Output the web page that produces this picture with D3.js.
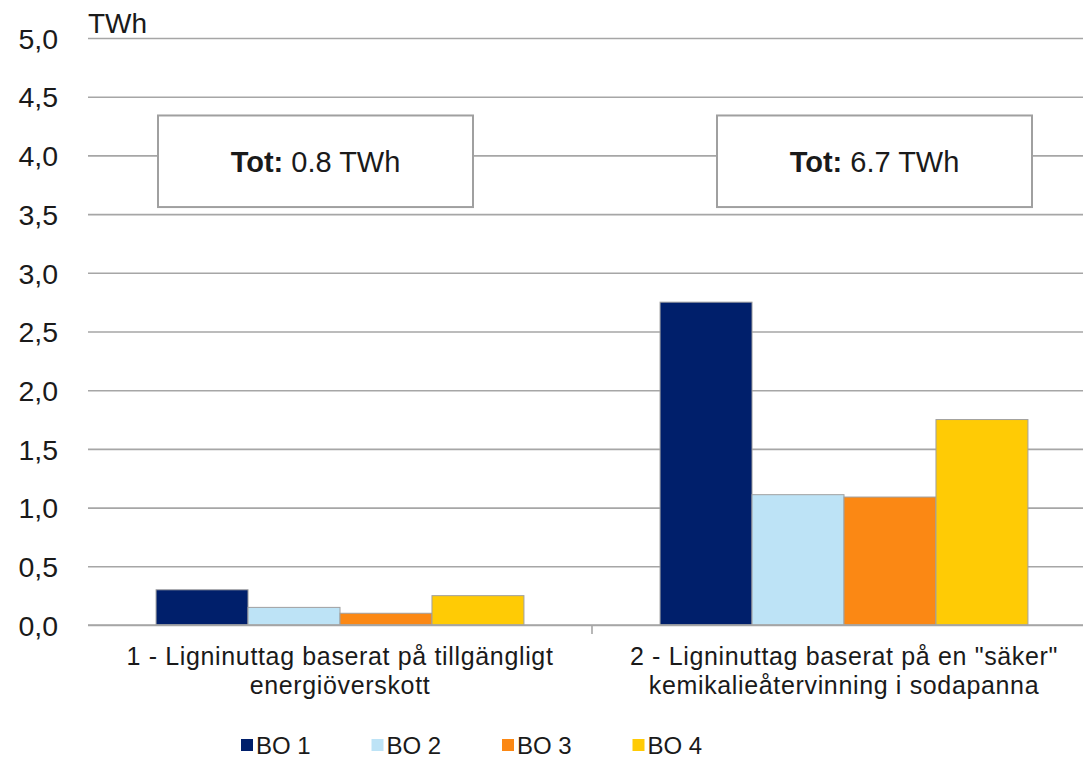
<!DOCTYPE html>
<html>
<head>
<meta charset="utf-8">
<script src="https://cdn.jsdelivr.net/npm/d3@7"></script>
<style>
  html, body { margin: 0; padding: 0; background: #fff; }
  svg { display: block; font-family: "Liberation Sans", Arial, sans-serif; }
</style>
</head>
<body>
<svg id="chart" width="1083" height="760"></svg>
<script>
// Categories (two line labels each) and series
const categories = ["cat1", "cat2"];
const categoryLabels = [
  ["1 - Ligninuttag baserat på tillgängligt", "energiöverskott"],
  ["2 - Ligninuttag baserat på en \"säker\"", "kemikalieåtervinning i sodapanna"]
];
const seriesNames = ["BO 1", "BO 2", "BO 3", "BO 4"];
const seriesColors = ["#001f6b", "#bde3f6", "#fb8814", "#ffcb05"];
const bo1 = [0.30, 2.75];
const bo2 = [0.15, 1.11];
const bo3 = [0.10, 1.09];
const bo4 = [0.25, 1.75];
const totals = ["0.8", "6.7"];
const yTicks = [0, 0.5, 1, 1.5, 2, 2.5, 3, 3.5, 4, 4.5, 5];
const unitLabel = "TWh";

const seriesValues = [bo1, bo2, bo3, bo4];

const svg = d3.select("#chart");
const margin = { left: 88, right: -13, top: 38, bottom: 135 };
const W = 1083, H = 760;
const plotW = W - margin.left - margin.right;
const plotH = H - margin.top - margin.bottom;

const g = svg.append("g").attr("transform", `translate(${margin.left},${margin.top})`);

const y = d3.scaleLinear().domain([0, 5]).range([plotH, 0]);
const x0 = d3.scaleBand().domain(categories).range([0, plotW]).paddingInner(0).paddingOuter(0);
const x1 = d3.scaleBand().domain(seriesNames).range([0, x0.bandwidth()]).paddingInner(0).paddingOuter(0.74);

// Horizontal grid lines
const yAxis = d3.axisLeft(y).tickValues(yTicks).tickSize(-plotW)
  .tickFormat(d => d3.format(".1f")(d).replace(".", ","));
const ya = g.append("g").call(yAxis);
ya.select(".domain").remove();
ya.selectAll(".tick line").attr("stroke", "#a6a6a6").attr("stroke-width", 1.6);
ya.selectAll(".tick text")
  .attr("x", -30).attr("dy", "0.36em")
  .attr("fill", "#1a1a1a").style("font-size", "28.5px")
  .style("font-family", "'Liberation Sans', Arial, sans-serif");

// Unit label
g.append("text").attr("x", 0).attr("y", -5)
  .attr("fill", "#1a1a1a").style("font-size", "28px").text(unitLabel);

// Bars
const groups = g.selectAll(".grp").data(categories).join("g")
  .attr("transform", c => `translate(${x0(c)},0)`);
groups.each(function (c, ci) {
  d3.select(this).selectAll("rect").data(seriesNames).join("rect")
    .attr("x", s => x1(s))
    .attr("width", x1.bandwidth())
    .attr("y", (s, si) => y(seriesValues[si][ci]))
    .attr("height", (s, si) => plotH - y(seriesValues[si][ci]))
    .attr("fill", (s, si) => seriesColors[si])
    .attr("stroke", "#a0a0a0").attr("stroke-width", 1);
});

// Baseline axis with category separator ticks
g.append("line").attr("x1", 0).attr("x2", plotW).attr("y1", plotH).attr("y2", plotH)
  .attr("stroke", "#a6a6a6").attr("stroke-width", 1.6);
g.append("line").attr("x1", x0("cat2")).attr("x2", x0("cat2"))
  .attr("y1", plotH).attr("y2", plotH + 9)
  .attr("stroke", "#a6a6a6").attr("stroke-width", 1.6);

// Category labels
categories.forEach((c, ci) => {
  const cx = x0(c) + x0.bandwidth() / 2;
  const t = g.append("text").attr("text-anchor", "middle")
    .attr("fill", "#1a1a1a").style("font-size", "25px").style("letter-spacing", "0.65px");
  categoryLabels[ci].forEach((line, li) => {
    t.append("tspan").attr("x", cx).attr("y", plotH + 40 + li * 29).text(line);
  });
});

// Total boxes (offset from each group's centre)
const boxOffsets = [-182, -127];
categories.forEach((c, ci) => {
  const bw = 315;
  const bx = x0(c) + x0.bandwidth() / 2 + boxOffsets[ci];
  const by = y(4.34), bh = y(3.56) - y(4.34);
  g.append("rect").attr("x", bx).attr("y", by).attr("width", bw).attr("height", bh)
    .attr("fill", "#fff").attr("stroke", "#a0a0a0").attr("stroke-width", 2);
  const t = g.append("text").attr("x", bx + bw / 2).attr("y", by + bh / 2)
    .attr("dy", "0.36em").attr("text-anchor", "middle")
    .attr("fill", "#1a1a1a").style("font-size", "29px");
  t.append("tspan").style("font-weight", "bold").text("Tot:");
  t.append("tspan").text(" " + totals[ci] + " TWh");
});

// Legend
const legend = svg.append("g").attr("transform", "translate(241,745)");
seriesNames.forEach((s, si) => {
  const lg = legend.append("g").attr("transform", `translate(${si * 130.5},0)`);
  lg.append("rect").attr("x", 0).attr("y", -6).attr("width", 12).attr("height", 12)
    .attr("fill", seriesColors[si]);
  lg.append("text").attr("x", 15).attr("y", 0).attr("dy", "0.36em")
    .attr("fill", "#1a1a1a").style("font-size", "24px").text(s);
});
</script>
</body>
</html>
